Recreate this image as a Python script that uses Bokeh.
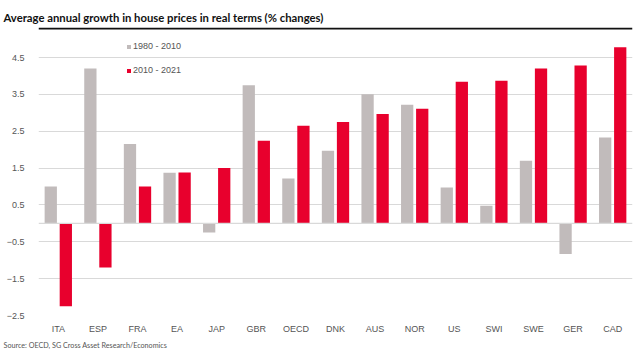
from bokeh.plotting import figure
from bokeh.models import (ColumnDataSource, FactorRange, Range1d, FixedTicker, Span,
                          Legend, LegendItem, Title)
from bokeh.transform import dodge
from bokeh.embed import file_html
from bokeh.resources import INLINE

# ---- data ----
countries = ["ITA", "ESP", "FRA", "EA", "JAP", "GBR", "OECD", "DNK", "AUS", "NOR",
             "US", "SWI", "SWE", "GER", "CAD"]
growth_1980_2010 = [1.0, 4.2, 2.15, 1.37, -0.25, 3.75, 1.22, 1.97, 3.5, 3.22,
                    0.97, 0.48, 1.7, -0.83, 2.33]
growth_2010_2021 = [-2.25, -1.2, 1.0, 1.38, 1.5, 2.24, 2.65, 2.75, 2.97, 3.11,
                    3.84, 3.87, 4.2, 4.28, 4.78]
y_ticks = [-2.5, -1.5, -0.5, 0.5, 1.5, 2.5, 3.5, 4.5]
series_labels = ["1980 - 2010", "2010 - 2021"]
title_text = "Average annual growth in house prices in real terms (% changes)"
source_text = "Source: OECD, SG Cross Asset Research/Economics"

GRAY = "#c1bbbb"
RED = "#e8002d"
GRID = "#d9d9d9"

FL, FR, FT, FB = 38, 8, 27, 45          # frame borders (px)
W, H = 640, 360
Y_START, Y_END = -2.5, 5.314            # frame spans this value range
RULE_Y = 5.285                          # heavy rule under the title, at the frame top

src = ColumnDataSource(dict(country=countries, a=growth_1980_2010, b=growth_2010_2021))
p = figure(width=W, height=H, x_range=FactorRange(*countries, range_padding=0),
           y_range=Range1d(Y_START, Y_END), output_backend="svg", toolbar_location=None,
           min_border_left=FL, min_border_right=FR, min_border_top=FT, min_border_bottom=FB,
           outline_line_color=None)
r1 = p.vbar(x=dodge("country", -0.19, range=p.x_range), top="a", bottom=0, width=0.31,
            source=src, fill_color=GRAY, line_color=None)
r2 = p.vbar(x=dodge("country", 0.19, range=p.x_range), top="b", bottom=0, width=0.31,
            source=src, fill_color=RED, line_color=None)

p.xgrid.visible = False
p.ygrid.ticker = FixedTicker(ticks=y_ticks)
p.ygrid.grid_line_color = GRID
p.ygrid.grid_line_width = 1.2
p.add_layout(Span(location=0, dimension="width", line_color=GRID, line_width=1.2))
p.add_layout(Span(location=RULE_Y, dimension="width", line_color="#111111", line_width=2))

p.yaxis.ticker = FixedTicker(ticks=y_ticks)
for ax in (p.xaxis[0], p.yaxis[0]):
    ax.axis_line_color = None
    ax.major_tick_line_color = None
    ax.minor_tick_line_color = None
    ax.major_label_text_font = "Liberation Sans"
    ax.major_label_text_font_size = "9px"
    ax.major_label_text_color = "#555555"
p.yaxis.major_label_standoff = 8
p.xaxis.major_label_standoff = 2

legend = Legend(items=[LegendItem(label=series_labels[0], renderers=[r1]),
                       LegendItem(label=series_labels[1], renderers=[r2])],
                location=(88, 240), orientation="vertical",
                glyph_width=5, glyph_height=5, label_height=10, spacing=14,
                label_standoff=2, padding=0, margin=0,
                border_line_color=None, background_fill_alpha=0,
                label_text_font="Liberation Sans", label_text_font_size="9px",
                label_text_color="#555555")
p.add_layout(legend)

# title above the frame
p.title.text = title_text
p.title.align = "left"
p.title.offset = 3 - FL
p.title.text_font = "Lato"
p.title.text_font_style = "bold"
p.title.text_font_size = "11.3px"
p.title.text_color = "#111111"
p.title.standoff = 7

# source below the axis labels
p.add_layout(Title(text=source_text, align="left", offset=3 - FL, text_font="Lato",
                   text_font_size="7.2px", text_font_style="normal",
                   text_color="#555555", standoff=5), "below")

open("out.html", "w").write(file_html(p, INLINE))
